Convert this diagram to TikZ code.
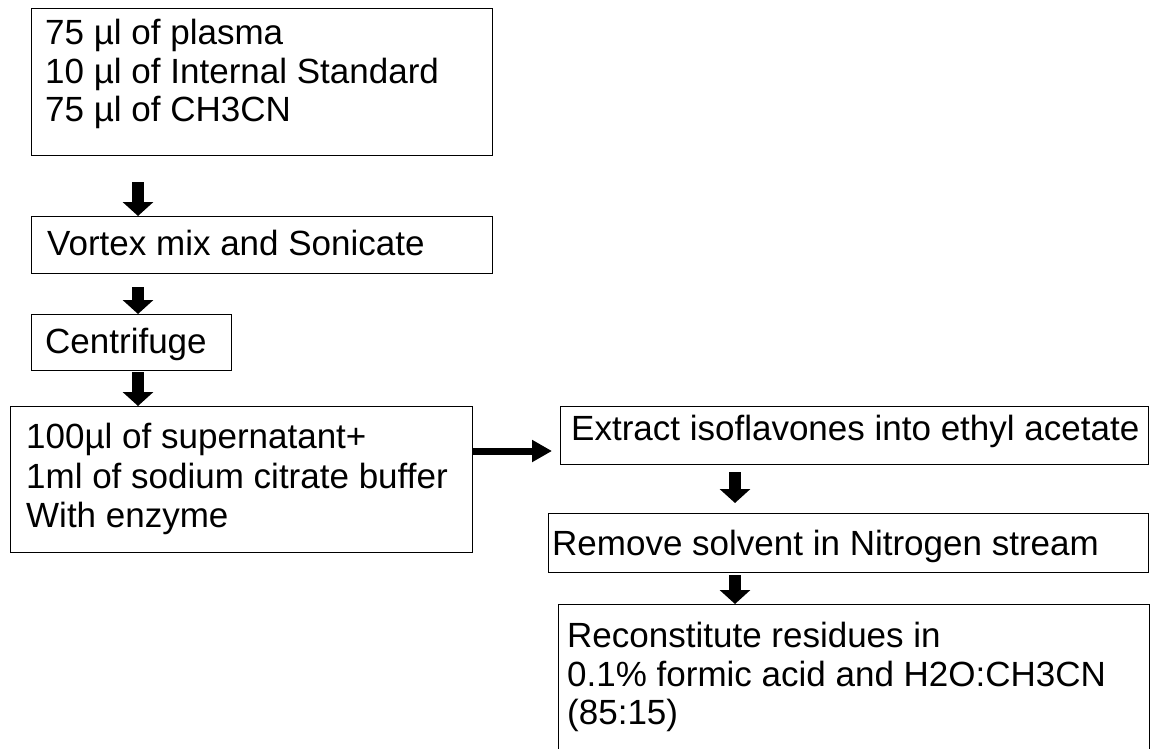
\documentclass[tikz,border=0pt]{standalone}
\usepackage{fontspec}
\setmainfont{Liberation Sans}
\usetikzlibrary{arrows.meta}
\begin{document}
\begin{tikzpicture}[x=1pt,y=-1pt,
  box/.style={draw=black, line width=1.2pt, rectangle, inner sep=0pt, anchor=north west},
  txt/.style={anchor=base west, inner sep=0pt, font=\fontsize{35}{40}\selectfont},
  varrow/.style={line width=12pt, -{Triangle[width=30pt,length=14pt]}},
  harrow/.style={line width=7pt, -{Triangle[width=21pt,length=20pt]}}]
\useasboundingbox (0,0) rectangle (1151,748);
\clip (0,0) rectangle (1151,748);
% boxes
\node[box, minimum width=461pt, minimum height=147pt] (b1) at (31,8) {};
\node[box, minimum width=461pt, minimum height=57pt]  (b2) at (31,216) {};
\node[box, minimum width=200pt, minimum height=56pt]  (b3) at (31,314) {};
\node[box, minimum width=462pt, minimum height=146pt] (b4) at (10,406) {};
\node[box, minimum width=588pt, minimum height=58pt]  (b5) at (560,406) {};
\node[box, minimum width=600pt, minimum height=59pt]  (b6) at (548,513) {};
\node[box, minimum width=591pt, minimum height=170pt] (b7) at (558,604) {};
% texts
\node[txt] (t11) at (45,44)  {75 µl of plasma};
\node[txt] (t12) at (45,83)  {10 µl of Internal Standard};
\node[txt] (t13) at (45,121) {75 µl of CH3CN};
\node[txt] (t2)  at (47,255) {Vortex mix and Sonicate};
\node[txt] (t3)  at (45,353) {Centrifuge};
\node[txt] (t41) at (26,448) {100µl of supernatant+};
\node[txt] (t42) at (26,488) {1ml of sodium citrate buffer};
\node[txt] (t43) at (26,527) {With enzyme};
\node[txt] (t5)  at (571,440) {Extract isoflavones into ethyl acetate};
\node[txt] (t6)  at (552,555) {Remove solvent in Nitrogen stream};
\node[txt] (t71) at (567,647) {Reconstitute residues in};
\node[txt] (t72) at (567,686) {0.1\% formic acid and H2O:CH3CN};
\node[txt] (t73) at (567,724) {(85:15)};
% arrows
\coordinate (a1s) at (138,182);
\coordinate (a2s) at (138,287);
\coordinate (a3s) at (138,372);
\coordinate (rh)  at (552,451);
\coordinate (a5s) at (735,472);
\coordinate (a5e) at (735,503);
\coordinate (a6s) at (735,575);
\draw[varrow] (a1s) -- (a1s |- b2.north);
\draw[varrow] (a2s) -- (a2s |- b3.north);
\draw[varrow] (a3s) -- (a3s |- b4.north);
\draw[harrow] (b4.east |- rh) -- (rh);
\draw[varrow] (a5s) -- (a5e);
\draw[varrow] (a6s) -- (a6s |- b7.north);
\end{tikzpicture}
\end{document}
